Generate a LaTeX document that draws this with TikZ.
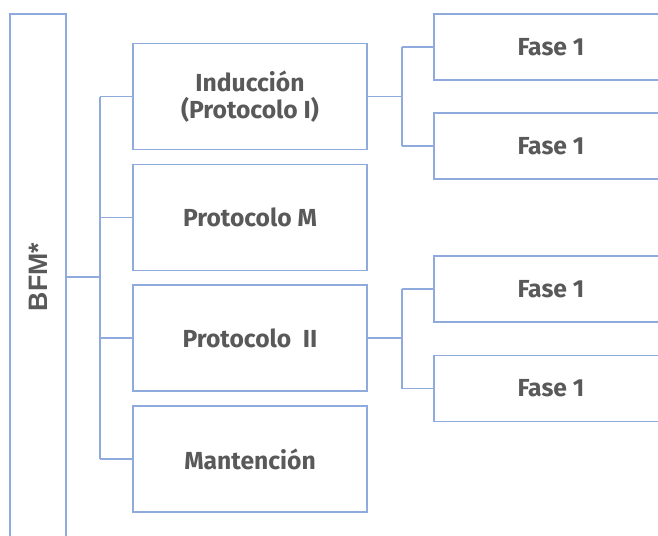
\documentclass[tikz,border=0pt]{standalone}
\usepackage{fontspec}
\newfontfamily\boxfont{Fira Sans}
\newfontfamily\bfmfont{Liberation Sans}
\usepackage{xcolor}
\definecolor{treeblue}{RGB}{143,170,220}
\definecolor{treegray}{RGB}{89,89,89}
\usetikzlibrary{positioning}
\tikzset{
  tree box/.style={draw=treeblue, line width=1.1pt, fill=white, align=center, text=treegray,
    font=\boxfont\bfseries\fontsize{18.5}{20.5}\selectfont, inner sep=0pt},
  stage node/.style={tree box, minimum width=175.5pt, minimum height=79.5pt},
  fase node/.style={tree box, minimum width=175.5pt, minimum height=49.5pt},
  root node/.style={tree box, minimum width=42pt, minimum height=394.5pt,
    font=\bfmfont\bfseries\fontsize{20}{24}\selectfont},
  tree edge/.style={draw=treeblue, line width=1.1pt},
}

\begin{document}
\begin{tikzpicture}[x=0.75pt, y=-0.75pt]
  \clip (0,0) rectangle (658,536);
  % root
  \node[root node] (bfm) at (38,277) {\rotatebox{90}{BFM*}};
  % stages
  \node[stage node] (ind) at (250,96.5) {Inducción\\(Protocolo I)};
  \node[stage node] (pm)  at (250,217.5) {Protocolo M};
  \node[stage node] (p2)  at (250,338) {Protocolo\ \ II};
  \node[stage node] (man) at (250,459) {Mantención};
  % phases
  \node[fase node] (f1) at (551,47) {Fase 1};
  \node[fase node] (f2) at (551,146) {Fase 1};
  \node[fase node] (f3) at (551,289) {Fase 1};
  \node[fase node] (f4) at (551,388.5) {Fase 1};
  % trunk from root to stages
  \coordinate (trunk) at (100,277);
  \draw[tree edge] (bfm.east |- trunk) -- (trunk);
  \draw[tree edge] (trunk |- ind.west) -- (trunk |- man.west);
  \foreach \s in {ind,pm,p2,man}
    \draw[tree edge] (trunk |- \s.west) -- (\s.west);
  % branches to phases
  \coordinate (splitA) at (402,96.5);
  \coordinate (splitB) at (402,338);
  \draw[tree edge] (ind.east) -- (splitA);
  \draw[tree edge] (splitA |- f1.west) -- (splitA |- f2.west);
  \draw[tree edge] (p2.east) -- (splitB);
  \draw[tree edge] (splitB |- f3.west) -- (splitB |- f4.west);
  \foreach \f/\k in {f1/A,f2/A,f3/B,f4/B}
    \draw[tree edge] (split\k |- \f.west) -- (\f.west);
\end{tikzpicture}
\end{document}
